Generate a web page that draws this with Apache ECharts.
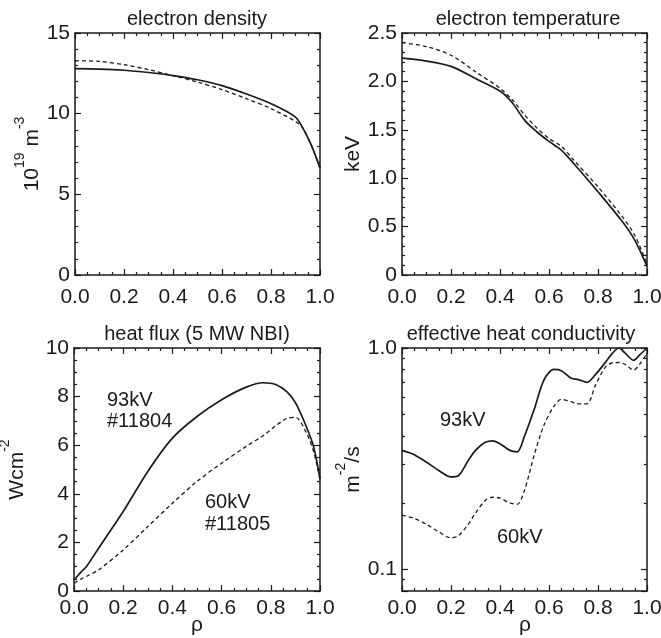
<!DOCTYPE html>
<html><head><meta charset="utf-8">
<script src="https://cdn.jsdelivr.net/npm/echarts@6/dist/echarts.min.js"></script>
<style>html,body{margin:0;padding:0;background:#fff}#c{width:661px;height:638px}</style>
</head><body><div id="c"></div>
<script>
// ---- data ----
const rhoDensity    = [0, 0.1, 0.2, 0.3, 0.4, 0.5, 0.6, 0.7, 0.8, 0.9, 0.93, 0.96, 0.98, 1.0];
const density93kV   = [12.79, 12.76, 12.69, 12.55, 12.36, 12.1, 11.74, 11.22, 10.62, 9.79, 9.1, 8.2, 7.46, 6.63];
const density60kV   = [13.28, 13.24, 13.04, 12.73, 12.36, 11.96, 11.49, 10.93, 10.31, 9.52, 9.1, 8.2, 7.46, 6.63];

const rhoTemp       = [0, 0.1, 0.2, 0.3, 0.4, 0.45, 0.5, 0.55, 0.6, 0.65, 0.7, 0.8, 0.9, 0.95, 1.0];
const temp93kV      = [2.24, 2.21, 2.155, 2.03, 1.90, 1.78, 1.60, 1.48, 1.38, 1.29, 1.155, 0.86, 0.55, 0.36, 0.09];
const temp60kV      = [2.40, 2.36, 2.27, 2.10, 1.93, 1.81, 1.655, 1.52, 1.41, 1.33, 1.19, 0.91, 0.60, 0.41, 0.12];

const rhoFlux       = [0, 0.03, 0.05, 0.1, 0.2, 0.3, 0.4, 0.5, 0.6, 0.7, 0.77, 0.82, 0.865, 0.9, 0.945, 0.975, 1.0];
const flux93kV      = [0.45, 0.8, 1.0, 1.76, 3.27, 4.92, 6.29, 7.18, 7.87, 8.39, 8.57, 8.5, 8.2, 7.75, 6.75, 5.9, 4.6];
const flux60kV      = [0.32, 0.5, 0.6, 0.87, 1.69, 2.65, 3.61, 4.51, 5.26, 5.95, 6.4, 6.8, 7.1, 7.15, 6.5, 5.7, 4.6];

const rhoChi        = [0, 0.05, 0.1, 0.15, 0.2, 0.23, 0.27, 0.3, 0.34, 0.37, 0.4, 0.44, 0.47, 0.5, 0.54, 0.58, 0.62, 0.65, 0.69, 0.72, 0.755, 0.79, 0.83, 0.86, 0.885, 0.91, 0.945, 0.97, 1.0];
const chi93kV       = [0.345, 0.33, 0.305, 0.28, 0.262, 0.265, 0.31, 0.345, 0.375, 0.381, 0.37, 0.345, 0.34, 0.40, 0.53, 0.72, 0.80, 0.79, 0.73, 0.72, 0.70, 0.76, 0.86, 0.95, 1.0, 0.95, 0.88, 0.93, 1.0];
const chi60kV       = [0.176, 0.17, 0.16, 0.148, 0.139, 0.142, 0.16, 0.18, 0.205, 0.212, 0.21, 0.2, 0.197, 0.228, 0.33, 0.45, 0.545, 0.586, 0.572, 0.56, 0.56, 0.68, 0.82, 0.858, 0.86, 0.845, 0.795, 0.845, 0.946];

const rhoTickLabels = ['0.0', '0.2', '0.4', '0.6', '0.8', '1.0'];
const panelTitles   = ['electron density', 'electron temperature', 'heat flux (5 MW NBI)', 'effective heat conductivity'];

// ---- layout ----
const FONT = '"Liberation Sans", Arial, Helvetica, sans-serif';
const INK = '#1a1a1a';
const grids = [
  {left: 75,  top: 33,  width: 245, height: 242},
  {left: 402, top: 33,  width: 245, height: 242},
  {left: 74,  top: 348, width: 246, height: 243},
  {left: 402, top: 348, width: 245, height: 243}
].map(g => Object.assign(g, {containLabel: false, outerBoundsMode: 'none'}));

function pairs(xs, ys) { return xs.map((x, i) => [x, ys[i]]); }

function xAxisFor(g, top) {
  const lower = g >= 2;
  return {
    type: 'value', gridIndex: g, position: top ? 'top' : 'bottom',
    min: 0, max: 1, interval: 0.2,
    axisLine: {show: true, onZero: false, lineStyle: {color: INK, width: 1.5}},
    axisTick: {show: true, inside: true, length: 6, lineStyle: {color: INK, width: 1.2}},
    minorTick: {show: true, splitNumber: 4, length: 3, lineStyle: {color: INK, width: 1.2}},
    splitLine: {show: false}, minorSplitLine: {show: false},
    axisLabel: {show: !top, margin: lower ? 7 : 12, fontFamily: FONT, fontSize: 21, color: INK,
      formatter: v => rhoTickLabels[Math.round(v * 5)]}
  };
}

const rich = {
  b: {fontFamily: FONT, fontSize: 21, color: INK, lineHeight: 30, verticalAlign: 'bottom'},
  s: {fontFamily: FONT, fontSize: 14, color: INK, verticalAlign: 'top'}
};

function yAxisFor(g, right, cfg) {
  const a = {
    type: cfg.type || 'value', gridIndex: g, position: right ? 'right' : 'left',
    min: cfg.min, max: cfg.max,
    axisLine: {show: true, onZero: false, lineStyle: {color: INK, width: 1.5}},
    axisTick: {show: true, inside: true, length: 6, lineStyle: {color: INK, width: 1.2}},
    minorTick: {show: true, splitNumber: cfg.minor, length: 3, lineStyle: {color: INK, width: 1.2}},
    splitLine: {show: false}, minorSplitLine: {show: false},
    axisLabel: {show: !right, margin: 5, fontFamily: FONT, fontSize: 21, color: INK, formatter: cfg.fmt},
    name: right ? '' : cfg.name, nameLocation: 'middle', nameRotate: 90, nameGap: cfg.gap,
    nameTextStyle: {fontFamily: FONT, fontSize: 21, color: INK, rich: rich}
  };
  if (cfg.interval !== undefined) a.interval = cfg.interval;
  if (cfg.type === 'log') a.logBase = 10;
  return a;
}

const yCfg = [
  {min: 0, max: 15, interval: 5, minor: 5, gap: 30, name: '{b|10}{s|19}{b| m}{s|-3}', fmt: v => String(v)},
  {min: 0, max: 2.5, interval: 0.5, minor: 5, gap: 37, name: '{b|keV}', fmt: v => v === 0 ? '0' : v.toFixed(1)},
  {min: 0, max: 10, interval: 2, minor: 4, gap: 46, name: '{b|Wcm}{s|-2}', fmt: v => String(v)},
  {type: 'log', min: 0.08, max: 1, minor: 9, gap: 38, name: '{b|m}{s|-2}{b|/s}',
   fmt: v => Math.abs(v - 1) < 1e-6 ? '1.0' : (Math.abs(v - 0.1) < 1e-6 ? '0.1' : '')}
];

const xAxes = [], yAxes = [];
for (let g = 0; g < 4; g++) {
  xAxes.push(xAxisFor(g, false));
  xAxes.push(xAxisFor(g, true));
  yAxes.push(yAxisFor(g, false, yCfg[g]));
  yAxes.push(yAxisFor(g, true, yCfg[g]));
}

function line(g, xs, ys, dashed) {
  return {
    type: 'line', xAxisIndex: 2 * g, yAxisIndex: 2 * g,
    data: pairs(xs, ys), showSymbol: false, symbol: 'none', smooth: 0.3,
    lineStyle: dashed ? {color: INK, width: 1.3, type: [4, 3]} : {color: INK, width: 1.7},
    animation: false, silent: true
  };
}

const series = [
  line(0, rhoDensity, density93kV, false), line(0, rhoDensity, density60kV, true),
  line(1, rhoTemp, temp93kV, false),       line(1, rhoTemp, temp60kV, true),
  line(2, rhoFlux, flux93kV, false),       line(2, rhoFlux, flux60kV, true),
  line(3, rhoChi, chi93kV, false),         line(3, rhoChi, chi60kV, true)
];

function txt(text, x, y, size, align) {
  return {type: 'text', x: x, y: y, silent: true,
    style: {text: text, fontFamily: FONT, fontSize: size, fill: INK, align: align || 'left', verticalAlign: 'middle'}};
}

const titleX = [197, 528, 197, 521];
const titleY = [19, 19, 334, 334];
const graphic = panelTitles.map((t, i) => txt(t, titleX[i], titleY[i], 20, 'center'));
graphic.push(txt('ρ', 197, 625, 21, 'center'));
graphic.push(txt('ρ', 525, 625, 21, 'center'));
graphic.push(txt('93kV', 107, 400, 20));
graphic.push(txt('#11804', 107, 421, 20));
graphic.push(txt('60kV', 205, 502, 20));
graphic.push(txt('#11805', 205, 524, 20));
graphic.push(txt('93kV', 440, 420, 20));
graphic.push(txt('60kV', 497, 537, 20));

const chart = echarts.init(document.getElementById('c'), null, {renderer: 'canvas'});
chart.setOption({
  backgroundColor: '#fff',
  animation: false,
  grid: grids,
  xAxis: xAxes,
  yAxis: yAxes,
  series: series,
  graphic: graphic
});
</script>
</body></html>
